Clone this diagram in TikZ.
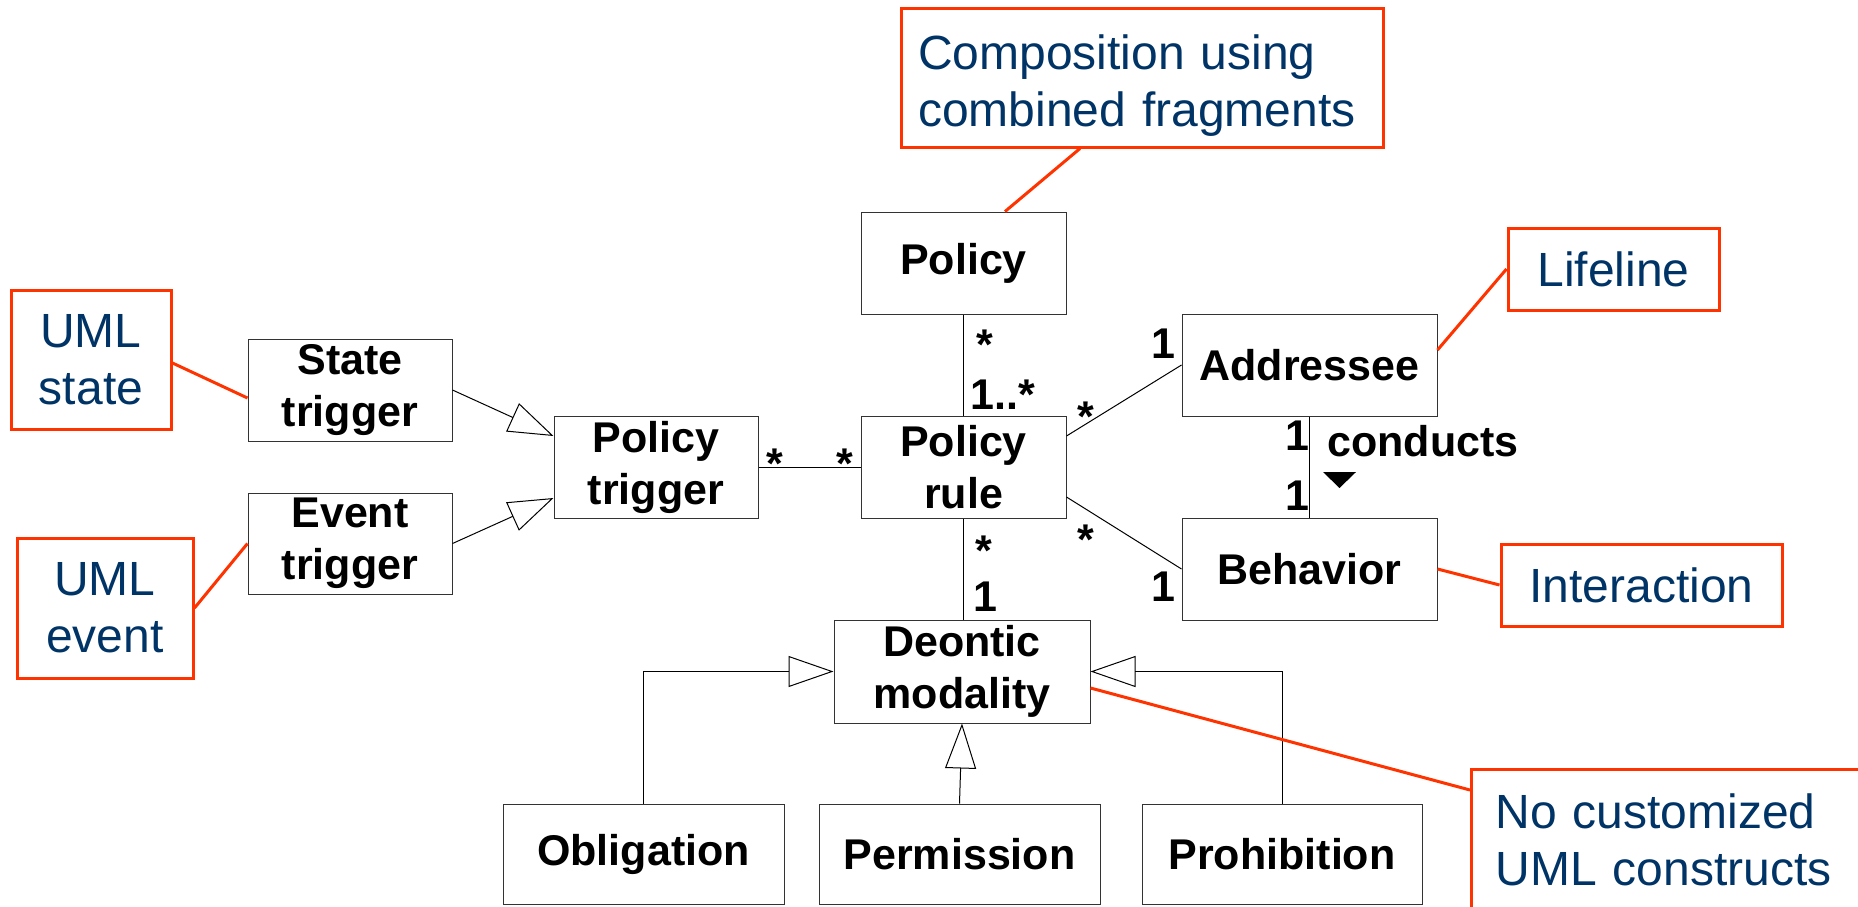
\documentclass[tikz,border=0pt]{standalone}
\usepackage{fontspec}
\setmainfont{Liberation Sans}
\usetikzlibrary{arrows.meta}
\definecolor{notered}{RGB}{255,51,0}
\definecolor{notenavy}{RGB}{0,51,102}

\begin{document}
\begin{tikzpicture}[
        x=0.5pt, y=-0.5pt,
        cls/.style={draw=black!80, line width=0.5pt, inner sep=0pt, align=center, font=\fontsize{21.5}{26}\selectfont\bfseries},
        note/.style={draw=notered, line width=1.5pt, inner sep=0pt, text=notenavy, font=\fontsize{24}{28.5}\selectfont},
        mult/.style={inner sep=0pt, anchor=base west, font=\fontsize{21.5}{26}\selectfont\bfseries},
        assoc/.style={line width=0.5pt},
        gen/.style={line width=0.5pt, -{Triangle[open, length=22.5pt, width=15.5pt]}},
        callout/.style={draw=notered, line width=1.5pt}
    ]
        \useasboundingbox (0,0) rectangle (1858,906);
        \clip (0,0) rectangle (1858,906);

        % --- Triggers (left) ---
        \node[cls, minimum width=102pt, minimum height=51pt] (statetrig) at (350,390) {State\\trigger};
        \node[cls, minimum width=102pt, minimum height=50.5pt] (eventtrig) at (350,543.5) {Event\\trigger};
        \node[cls, minimum width=102pt, minimum height=51pt] (ptrig) at (656,467) {Policy\\trigger};

        % --- Policy and its rule ---
        \node[cls, minimum width=102.5pt, minimum height=51pt] (policy) at (963.5,263) {Policy};
        \node[cls, minimum width=102.5pt, minimum height=51pt] (prule) at (963.5,467) {Policy\\rule};

        % --- Addressee / behavior ---
        \node[cls, minimum width=127.5pt, minimum height=51pt] (addressee) at (1309.5,365) {Addressee};
        \node[cls, minimum width=127.5pt, minimum height=51pt] (behavior) at (1309.5,569) {Behavior};

        % --- Deontic modality and its kinds ---
        \node[cls, minimum width=128pt, minimum height=51.5pt] (deontic) at (962,671.5) {Deontic\\modality};
        \node[cls, minimum width=140.5pt, minimum height=50pt] (obligation) at (643.5,854) {Obligation};
        \node[cls, minimum width=140.5pt, minimum height=50pt] (permission) at (959.5,854) {Permission};
        \node[cls, minimum width=140pt, minimum height=50pt] (prohibition) at (1282,854) {Prohibition};

        % --- Notes ---
        \node[note, minimum width=80pt, minimum height=69.5pt, align=center] (umlstate) at (91,359.5) {UML\\state};
        \node[note, minimum width=88pt, minimum height=70pt, align=center] (umlevent) at (105,608) {UML\\event};
        \node[note, text width=224pt, inner xsep=8.5pt, text height=25.5pt, minimum height=69.5pt, align=left] (composition) at (1142,77.5) {Composition using\\combined fragments};
        \node[note, minimum width=105.5pt, minimum height=41pt] (lifeline) at (1613.5,269) {Lifeline};
        \node[note, minimum width=140.5pt, minimum height=41pt] (interaction) at (1641.5,585) {Interaction};
        \node[note, anchor=north west, text width=185pt, inner xsep=12pt, inner ysep=12pt, text depth=60pt, align=left] (nocustom) at (1470,768) {No customized\\UML constructs};

        % --- Generalizations ---
        \draw[gen] (statetrig.east) -- ([yshift=15.5pt]ptrig.west);
        \draw[gen] (eventtrig.east) -- ([yshift=-15.5pt]ptrig.west);
        \draw[gen] (obligation.north) |- (deontic.west);
        \draw[gen] (prohibition.north) |- (deontic.east);
        \draw[gen] (permission.north) -- (deontic.south);

        % --- Associations ---
        \draw[assoc] (ptrig) -- (prule);
        \draw[assoc] (policy) -- (prule);
        \draw[assoc] ([yshift=15.5pt]prule.east) -- (addressee.west);
        \draw[assoc] ([yshift=-15pt]prule.east) -- (behavior.west);
        \draw[assoc] (prule.south) -- (prule.south |- deontic.north);
        \draw[assoc] (addressee) -- (behavior);

        % --- Multiplicities ---
        \node[mult] (mpolicy) at (976,359) {*};
        \node[mult] (mrulea) at (970,409) {1..*};
        \node[mult] (mtrig) at (766,478) {*};
        \node[mult] (mruleb) at (836,478) {*};
        \node[mult] (mrulec) at (1077,431) {*};
        \node[mult] (maddr) at (1151,358) {1};
        \node[mult] (mruled) at (1077,554) {*};
        \node[mult] (mbeha) at (1151,601) {1};
        \node[mult] (mrulee) at (975,565) {*};
        \node[mult] (mdeon) at (973,611) {1};
        \node[mult] (maddrb) at (1285,450) {1};
        \node[mult] (mbehb) at (1285,510) {1};
        \node[mult] (conducts) at (1327,456) {conducts};
        \fill (1323,472) -- (1356,472) -- (1339.5,488) -- cycle;

        % --- Note links ---
        \draw[callout] ([yshift=-1.75pt]umlstate.east) -- ([yshift=-4pt]statetrig.west);
        \draw[callout] (umlevent.east) -- (eventtrig.west);
        \draw[callout] ([xshift=-31pt]composition.south) -- ([xshift=20.75pt]policy.north);
        \draw[callout] (lifeline.west) -- ([yshift=7.5pt]addressee.east);
        \draw[callout] (interaction.west) -- (behavior.east);
        \draw[callout] ([yshift=-11pt]nocustom.north west) -- ([yshift=-8.25pt]deontic.east);

    \end{tikzpicture}
\end{document}
